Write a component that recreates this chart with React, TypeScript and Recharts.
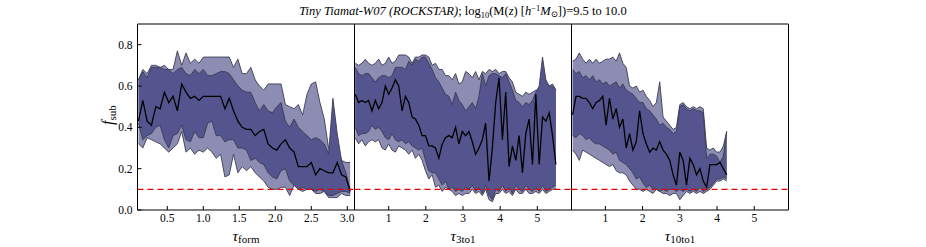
import React from "react";
import { ComposedChart, Area, Line, XAxis, YAxis, ReferenceLine } from "recharts";

// ---------- Panel 1 : tau_form ----------
const p1X = [0.10,0.16,0.22,0.28,0.34,0.40,0.46,0.52,0.58,0.64,0.70,0.76,0.82,0.88,0.94,1.00,1.06,1.12,1.18,1.24,1.30,1.36,1.42,1.48,1.54,1.60,1.66,1.72,1.78,1.84,1.90,1.96,2.02,2.08,2.14,2.20,2.26,2.32,2.38,2.44,2.50,2.56,2.62,2.68,2.74,2.80,2.86,2.92,2.98,3.04];
const p1Median = [0.43,0.53,0.43,0.41,0.50,0.49,0.57,0.52,0.55,0.48,0.61,0.57,0.54,0.55,0.53,0.55,0.55,0.55,0.55,0.55,0.49,0.54,0.48,0.43,0.40,0.39,0.39,0.36,0.38,0.39,0.32,0.30,0.29,0.32,0.34,0.30,0.28,0.21,0.21,0.21,0.23,0.17,0.20,0.19,0.18,0.18,0.23,0.17,0.16,0.09];
const p1DarkHi = [0.63,0.67,0.64,0.69,0.69,0.69,0.68,0.68,0.66,0.68,0.69,0.66,0.65,0.68,0.66,0.68,0.65,0.65,0.66,0.67,0.67,0.66,0.63,0.60,0.58,0.57,0.57,0.52,0.48,0.51,0.48,0.47,0.50,0.52,0.43,0.40,0.44,0.40,0.38,0.36,0.34,0.35,0.34,0.32,0.27,0.54,0.37,0.24,0.18,0.10];
const p1DarkLo = [0.42,0.34,0.36,0.37,0.40,0.41,0.34,0.30,0.36,0.37,0.41,0.34,0.33,0.38,0.35,0.35,0.42,0.43,0.36,0.36,0.33,0.34,0.34,0.30,0.30,0.29,0.24,0.25,0.23,0.22,0.18,0.16,0.15,0.19,0.20,0.14,0.12,0.10,0.11,0.10,0.10,0.09,0.10,0.09,0.07,0.07,0.08,0.09,0.09,0.08];
const p1LightHi = [0.63,0.68,0.66,0.70,0.70,0.69,0.70,0.68,0.68,0.77,0.70,0.76,0.71,0.73,0.71,0.74,0.74,0.74,0.74,0.74,0.74,0.74,0.69,0.73,0.66,0.66,0.69,0.63,0.60,0.58,0.61,0.61,0.61,0.61,0.51,0.50,0.49,0.51,0.46,0.56,0.61,0.62,0.52,0.44,0.30,0.30,0.28,0.24,0.23,0.23];
const p1LightLo = [0.32,0.30,0.35,0.34,0.33,0.32,0.30,0.28,0.30,0.32,0.38,0.28,0.30,0.27,0.29,0.28,0.30,0.28,0.25,0.27,0.16,0.17,0.27,0.18,0.21,0.19,0.21,0.18,0.16,0.14,0.11,0.10,0.10,0.11,0.11,0.07,0.12,0.10,0.09,0.10,0.10,0.08,0.08,0.09,0.06,0.06,0.06,0.08,0.07,0.07];

// ---------- Panel 2 : tau_3to1 ----------
const p2X = [0.10,0.19,0.28,0.37,0.46,0.55,0.64,0.73,0.82,0.91,1.00,1.09,1.18,1.27,1.36,1.45,1.54,1.63,1.72,1.81,1.90,1.99,2.08,2.17,2.26,2.35,2.44,2.53,2.62,2.71,2.80,2.89,2.98,3.07,3.16,3.25,3.34,3.43,3.52,3.61,3.70,3.79,3.88,3.97,4.06,4.15,4.24,4.33,4.42,4.51,4.60,4.69,4.78,4.87,4.96,5.05,5.14,5.23,5.32,5.41,5.50];
const p2Median = [0.56,0.52,0.53,0.52,0.53,0.48,0.53,0.49,0.52,0.60,0.56,0.59,0.63,0.60,0.48,0.55,0.52,0.45,0.44,0.41,0.36,0.36,0.31,0.31,0.30,0.25,0.32,0.35,0.36,0.35,0.40,0.32,0.38,0.36,0.38,0.33,0.27,0.30,0.34,0.42,0.14,0.30,0.52,0.64,0.34,0.57,0.21,0.31,0.24,0.36,0.18,0.37,0.44,0.22,0.56,0.22,0.45,0.43,0.47,0.36,0.22];
const p2DarkHi = [0.69,0.66,0.65,0.66,0.66,0.64,0.62,0.64,0.65,0.65,0.64,0.65,0.69,0.69,0.69,0.68,0.72,0.70,0.73,0.72,0.74,0.74,0.71,0.68,0.64,0.62,0.59,0.56,0.55,0.51,0.57,0.53,0.51,0.48,0.50,0.52,0.49,0.55,0.66,0.60,0.65,0.66,0.66,0.65,0.64,0.66,0.62,0.58,0.53,0.52,0.50,0.52,0.51,0.53,0.57,0.60,0.74,0.63,0.60,0.60,0.58];
const p2DarkLo = [0.40,0.36,0.37,0.37,0.38,0.41,0.39,0.40,0.38,0.35,0.34,0.37,0.34,0.33,0.34,0.32,0.33,0.31,0.30,0.29,0.30,0.24,0.19,0.18,0.18,0.15,0.12,0.14,0.10,0.11,0.09,0.10,0.09,0.11,0.10,0.12,0.09,0.11,0.08,0.12,0.07,0.05,0.10,0.09,0.12,0.09,0.11,0.08,0.12,0.10,0.09,0.12,0.10,0.09,0.11,0.09,0.12,0.09,0.10,0.11,0.12];
const p2LightHi = [0.71,0.70,0.71,0.73,0.71,0.70,0.71,0.73,0.70,0.71,0.74,0.71,0.72,0.75,0.75,0.75,0.74,0.71,0.74,0.74,0.75,0.75,0.74,0.70,0.71,0.68,0.68,0.65,0.65,0.63,0.66,0.61,0.62,0.67,0.66,0.64,0.67,0.63,0.67,0.66,0.68,0.67,0.68,0.66,0.67,0.67,0.64,0.62,0.57,0.56,0.55,0.57,0.56,0.57,0.58,0.58,0.62,0.60,0.60,0.61,0.58];
const p2LightLo = [0.35,0.32,0.34,0.31,0.33,0.34,0.33,0.34,0.30,0.29,0.32,0.29,0.28,0.31,0.30,0.29,0.27,0.29,0.25,0.27,0.24,0.19,0.15,0.17,0.11,0.12,0.09,0.11,0.10,0.09,0.07,0.08,0.07,0.08,0.08,0.10,0.08,0.09,0.07,0.10,0.05,0.04,0.08,0.08,0.10,0.08,0.09,0.07,0.10,0.08,0.08,0.10,0.08,0.08,0.09,0.08,0.10,0.08,0.09,0.10,0.10];

// ---------- Panel 3 : tau_10to1 ----------
const p3X = [0.12,0.21,0.30,0.39,0.48,0.57,0.66,0.75,0.84,0.93,1.02,1.11,1.20,1.29,1.38,1.47,1.56,1.65,1.74,1.83,1.92,2.01,2.10,2.19,2.28,2.37,2.46,2.55,2.64,2.73,2.82,2.91,3.00,3.09,3.18,3.27,3.36,3.45,3.54,3.63,3.72,3.81,3.90,3.99,4.08,4.17,4.26];
const p3Median = [0.46,0.55,0.55,0.54,0.54,0.52,0.49,0.52,0.53,0.55,0.41,0.54,0.44,0.49,0.40,0.44,0.30,0.37,0.29,0.33,0.48,0.37,0.32,0.28,0.30,0.29,0.33,0.29,0.27,0.24,0.17,0.12,0.28,0.24,0.12,0.25,0.22,0.17,0.20,0.14,0.11,0.22,0.22,0.22,0.23,0.20,0.17];
const p3DarkHi = [0.68,0.66,0.67,0.64,0.65,0.63,0.65,0.62,0.63,0.61,0.62,0.60,0.61,0.62,0.59,0.61,0.58,0.57,0.56,0.54,0.52,0.52,0.49,0.48,0.46,0.44,0.41,0.42,0.40,0.39,0.37,0.38,0.50,0.51,0.49,0.48,0.49,0.48,0.48,0.47,0.25,0.27,0.27,0.26,0.23,0.26,0.38];
const p3DarkLo = [0.36,0.35,0.37,0.36,0.34,0.35,0.33,0.32,0.32,0.31,0.30,0.29,0.27,0.28,0.24,0.23,0.22,0.20,0.18,0.15,0.16,0.13,0.11,0.12,0.10,0.10,0.09,0.10,0.09,0.10,0.10,0.09,0.10,0.09,0.10,0.09,0.10,0.09,0.11,0.09,0.10,0.11,0.13,0.15,0.15,0.16,0.15];
const p3LightHi = [0.72,0.73,0.76,0.73,0.71,0.73,0.71,0.73,0.71,0.72,0.73,0.73,0.74,0.72,0.76,0.71,0.69,0.60,0.59,0.60,0.57,0.58,0.55,0.53,0.50,0.52,0.62,0.45,0.43,0.41,0.39,0.40,0.51,0.52,0.50,0.49,0.50,0.49,0.50,0.49,0.30,0.29,0.30,0.28,0.28,0.31,0.38];
const p3LightLo = [0.29,0.27,0.24,0.29,0.28,0.27,0.26,0.25,0.24,0.23,0.22,0.21,0.22,0.19,0.18,0.18,0.17,0.14,0.12,0.10,0.10,0.09,0.10,0.09,0.08,0.10,0.09,0.08,0.08,0.07,0.08,0.08,0.05,0.07,0.09,0.08,0.09,0.08,0.09,0.08,0.09,0.10,0.12,0.14,0.14,0.15,0.14];

// ---------- axes ----------
const yTicks = [0, 0.2, 0.4, 0.6, 0.8];
const p1Ticks = [0.5, 1.0, 1.5, 2.0, 2.5, 3.0];
const p23Ticks = [1, 2, 3, 4, 5];
const thresholdLine = 0.1;

const W = 926;
const H = 247;
const PLOT_TOP = 24;
const PLOT_BOTTOM = 210;
const SERIF = "'Liberation Serif', 'DejaVu Serif', serif";
const LIGHT = "#8d8db4";
const DARK = "#54548e";
const EDGE = "#3b3b52";

function buildRows(x: number[], med: number[], dLo: number[], dHi: number[], lLo: number[], lHi: number[]) {
  return x.map((v, i) => ({ x: v, light: [lLo[i], lHi[i]], dark: [dLo[i], dHi[i]], med: med[i] }));
}

type PanelProps = {
  rows: any[];
  domain: [number, number];
  ticks: number[];
  fmt: (v: number) => string;
  left: number;
  right: number;
  yLabels: boolean;
};

function Panel({ rows, domain, ticks, fmt, left, right, yLabels }: PanelProps) {
  const tickStyle = { fill: "#000", fontSize: 11.5, fontFamily: SERIF, style: { fontFamily: SERIF } };
  return (
    <div style={{ position: "absolute", left: 0, top: 0, fontFamily: SERIF }}>
      <ComposedChart
        width={W}
        height={H}
        data={rows}
        style={{ fontFamily: SERIF }}
        margin={{ top: PLOT_TOP - 1, bottom: H - PLOT_BOTTOM - 1, left: left - 1, right: W - right - 1 }}
      >
        <XAxis xAxisId="b" dataKey="x" type="number" domain={domain} ticks={ticks} allowDataOverflow
          orientation="bottom" height={1} tickSize={-4} tickMargin={8} stroke="#000" interval={0}
          tick={tickStyle} tickFormatter={fmt} />
        <XAxis xAxisId="t" dataKey="x" type="number" domain={domain} ticks={ticks} allowDataOverflow
          orientation="top" height={1} tickSize={-4} stroke="#000" interval={0} tick={false} />
        <YAxis yAxisId="l" type="number" domain={[0, 0.9]} ticks={yTicks} allowDataOverflow
          orientation="left" width={1} tickSize={-4} tickMargin={9} stroke="#000" interval={0}
          tick={yLabels ? tickStyle : false} tickFormatter={(v: number) => v.toFixed(1)} />
        <YAxis yAxisId="r" type="number" domain={[0, 0.9]} ticks={yTicks} allowDataOverflow
          orientation="right" width={1} tickSize={-4} stroke="#000" interval={0} tick={false} />
        <Area xAxisId="b" yAxisId="l" type="linear" dataKey="light" fill={LIGHT} fillOpacity={1}
          stroke={EDGE} strokeWidth={0.9} dot={false} activeDot={false} isAnimationActive={false} />
        <Area xAxisId="b" yAxisId="l" type="linear" dataKey="dark" fill={DARK} fillOpacity={1}
          stroke={EDGE} strokeWidth={0.9} dot={false} activeDot={false} isAnimationActive={false} />
        <Line xAxisId="b" yAxisId="l" type="linear" dataKey="med" stroke="#000" strokeWidth={1.3}
          dot={false} activeDot={false} isAnimationActive={false} />
        <ReferenceLine xAxisId="b" yAxisId="l" y={thresholdLine} stroke="#e80000" strokeWidth={1.3}
          strokeDasharray="6 4" />
      </ComposedChart>
    </div>
  );
}

export default function App() {
  const rows1 = buildRows(p1X, p1Median, p1DarkLo, p1DarkHi, p1LightLo, p1LightHi);
  const rows2 = buildRows(p2X, p2Median, p2DarkLo, p2DarkHi, p2LightLo, p2LightHi);
  const rows3 = buildRows(p3X, p3Median, p3DarkLo, p3DarkHi, p3LightLo, p3LightHi);
  const f1 = (v: number) => v.toFixed(1);
  const f0 = (v: number) => String(v);
  return (
    <div style={{ position: "absolute", left: 0, top: 0, width: W, height: H, background: "#fff" }}>
      <Panel rows={rows1} domain={[0.086, 3.1]} ticks={p1Ticks} fmt={f1} left={137.5} right={354.5} yLabels />
      <Panel rows={rows2} domain={[0.08, 5.92]} ticks={p23Ticks} fmt={f0} left={354.5} right={571.5} yLabels={false} />
      <Panel rows={rows3} domain={[0.09, 5.92]} ticks={p23Ticks} fmt={f0} left={571.5} right={788.5} yLabels={false} />
      <svg width={W} height={H} style={{ position: "absolute", left: 0, top: 0 }}>
        <text x={463} y={15} textAnchor="middle" fontFamily={SERIF} fontSize={12.5} fill="#000">
          <tspan fontStyle="italic">Tiny Tiamat-W07 (ROCKSTAR)</tspan>
          <tspan>; log</tspan>
          <tspan fontSize={8.5} dy={3}>10</tspan>
          <tspan dy={-3}>(M(</tspan>
          <tspan fontStyle="italic">z</tspan>
          <tspan>) [</tspan>
          <tspan fontStyle="italic">h</tspan>
          <tspan fontSize={8.5} dy={-4}>−1</tspan>
          <tspan fontStyle="italic" dy={4}>M</tspan>
          <tspan fontSize={8.5} dy={2}>⊙</tspan>
          <tspan dy={-2}>])=9.5 to 10.0</tspan>
        </text>
        <text transform="rotate(-90 113 115)" x={113} y={115} textAnchor="middle" fontFamily={SERIF} fill="#000">
          <tspan fontStyle="italic" fontSize={16}>f</tspan>
          <tspan fontSize={11} dy={3}>sub</tspan>
        </text>
        <text x={246} y={240.5} textAnchor="middle" fontFamily={SERIF} fill="#000">
          <tspan fontStyle="italic" fontSize={15.5}>τ</tspan>
          <tspan fontSize={11} dy={2.5}>form</tspan>
        </text>
        <text x={463} y={240.5} textAnchor="middle" fontFamily={SERIF} fill="#000">
          <tspan fontStyle="italic" fontSize={15.5}>τ</tspan>
          <tspan fontSize={11} dy={2.5}>3to1</tspan>
        </text>
        <text x={680} y={240.5} textAnchor="middle" fontFamily={SERIF} fill="#000">
          <tspan fontStyle="italic" fontSize={15.5}>τ</tspan>
          <tspan fontSize={11} dy={2.5}>10to1</tspan>
        </text>
      </svg>
    </div>
  );
}
